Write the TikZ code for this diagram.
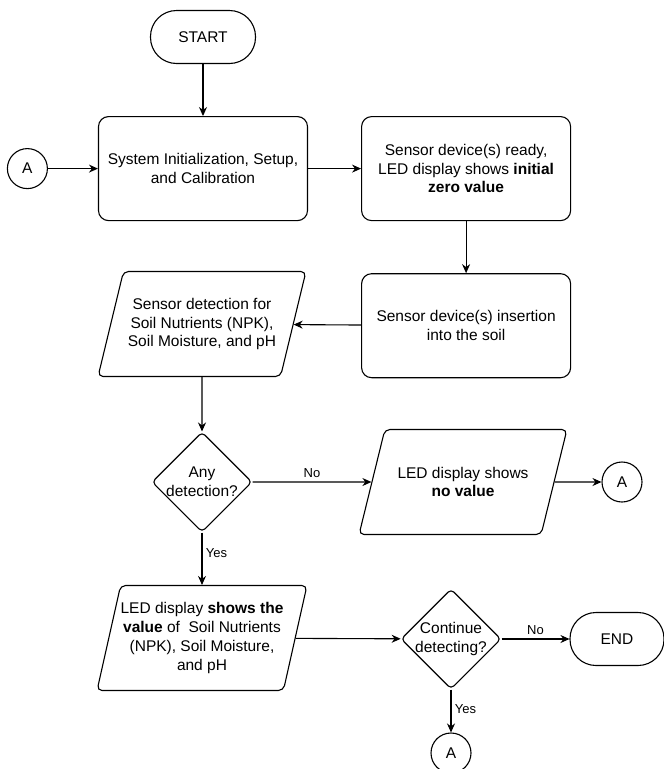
\documentclass[tikz,border=0pt]{standalone}
\usepackage{fontspec}
\setmainfont{Liberation Sans}
\usepackage{tikz}
\usetikzlibrary{shapes}
\usetikzlibrary{positioning}
\usetikzlibrary{arrows.meta}

\begin{document}
\begin{tikzpicture}[x=1pt, y=-1pt, line width=1.1pt, >={Stealth[length=9pt,width=8pt]},
        every node/.style={font=\fontsize{15.5}{18.7}\selectfont, align=center},
        term/.style={draw, rectangle, rounded corners=26pt, minimum width=105pt, minimum height=53pt},
        proc/.style={draw, rectangle, rounded corners=10pt, minimum width=209pt, minimum height=104pt},
        io/.style={draw, trapezium, trapezium left angle=#1, trapezium right angle=180-#1,
            trapezium stretches=true, rounded corners=5pt, inner xsep=0pt, inner ysep=1pt,
            minimum width=208pt, minimum height=105pt},
        decision/.style={draw, diamond, rounded corners=4pt, inner sep=0pt, minimum width=100pt, minimum height=100pt},
        conn/.style={draw, circle, minimum size=40pt, inner sep=0pt},
        lbl/.style={font=\fontsize{13}{15}\selectfont}]
        \useasboundingbox (0,0) rectangle (664,769);

        \node[term] (start) at (203,37) {START};
        \node[proc] (init) [below=52pt of start] {System Initialization, Setup,\\and Calibration};
        \node[conn] (conA) [left=50pt of init] {A};
        \node[proc] (ready) [right=53pt of init] {Sensor device(s) ready,\\LED display shows \textbf{initial}\\\textbf{zero value}};
        \node[proc] (insert) [below=52pt of ready] {Sensor device(s) insertion\\into the soil};

        \node[io=66] (detect) at (202,324) {Sensor detection for\\Soil Nutrients (NPK),\\Soil Moisture, and pH};
        \node[decision, label={[align=center]center:Any\\detection?}] (anyDet) at (202,482) {};
        \node[io=56] (noVal) at (463,482) {LED display shows\\\textbf{no value}};
        \node[conn] (conA2) at (622,482) {A};

        \node[io=72] (showVal) at (202,638) {LED display \textbf{shows the}\\\textbf{value} of~ Soil Nutrients\\(NPK), Soil Moisture,\\and pH};
        \node[decision, label={[align=center]center:Continue\\detecting?}] (contDet) at (451,639) {};
        \node[term, minimum width=94pt] (finish) at (617,639) {END};
        \node[conn] (conA3) at (451,753) {A};

        \draw[->] (start) -- (init);
        \draw[->] (conA) -- (init);
        \draw[->] (init) -- (ready);
        \draw[->] (ready) -- (insert);
        \draw[->] (insert) -- (detect);
        \draw[->] (detect) -- (anyDet);
        \draw[->] (anyDet) -- node[lbl, above, pos=0.5] {No} (noVal);
        \draw[->] (noVal) -- (conA2);
        \draw[->] (anyDet) -- node[lbl, right, pos=0.4] {Yes} (showVal);
        \draw[->] (showVal) -- (contDet);
        \draw[->] (contDet) -- node[lbl, above] {No} (finish);
        \draw[->] (contDet) -- node[lbl, right, pos=0.45] {Yes} (conA3);
    \end{tikzpicture}
\end{document}
